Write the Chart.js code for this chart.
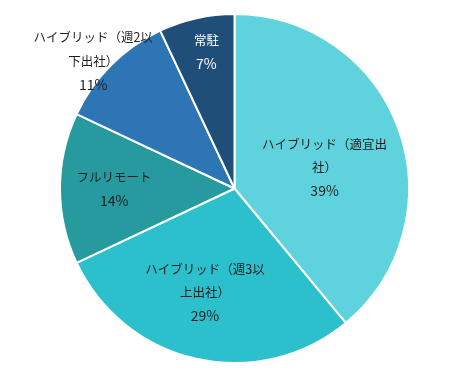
<!DOCTYPE html>
<html><head><meta charset="utf-8">
<script src="https://cdn.jsdelivr.net/npm/chart.js@4"></script>
<style>html,body{margin:0;padding:0;background:#fff;}#wrap{width:460px;height:381px;}</style>
</head><body><div id="wrap"><canvas id="c" width="460" height="381"></canvas></div>
<script>
const categories = [["ハイブリッド（適宜出","社）"],["ハイブリッド（週3以","上出社）"],["フルリモート"],["ハイブリッド（週2以","下出社）"],["常駐"]];
const values = [39, 29, 14, 11, 7];
const colors = ["#5fd3dd", "#2cbfcc", "#269a9f", "#2e75b6", "#1f4e79"];
const labelColors = ["#1f1f1f", "#1f1f1f", "#1f1f1f", "#1f1f1f", "#ffffff"];
// label anchor: [radius fraction, angle offset in degrees from slice middle]
const labelAnchors = [[0.53, 6.7], [0.62, 3.2], [0.69, 0], [1.09, -3], [0.80, 1]];

const labelPlugin = {
  id: 'pieLabels',
  afterDatasetsDraw(chart) {
    const ctx = chart.ctx;
    const meta = chart.getDatasetMeta(0);
    ctx.save();
    ctx.textAlign = 'center';
    ctx.textBaseline = 'middle';
    meta.data.forEach((arc, i) => {
      const p = arc.getProps(['x','y','startAngle','endAngle','outerRadius'], true);
      const mid = (p.startAngle + p.endAngle) / 2 + labelAnchors[i][1] * Math.PI / 180;
      const r = p.outerRadius * labelAnchors[i][0];
      const cx = p.x + Math.cos(mid) * r;
      const cy = p.y + Math.sin(mid) * r;
      const lines = categories[i].concat([values[i] + '%']);
      const lh = 23.5;
      const y0 = cy - (lines.length - 1) * lh / 2;
      ctx.fillStyle = labelColors[i];
      lines.forEach((t, k) => {
        const isPct = k === lines.length - 1;
        ctx.font = (isPct ? '14px' : '12.5px') + ' "Noto Sans CJK JP", sans-serif';
        ctx.fillText(t, cx, y0 + k * lh);
      });
    });
    ctx.restore();
  }
};

new Chart(document.getElementById('c'), {
  type: 'pie',
  data: {
    labels: categories.map(c => c.join('')),
    datasets: [{ data: values, backgroundColor: colors, borderColor: '#ffffff', borderWidth: 2 }]
  },
  options: {
    responsive: false,
    animation: false,
    layout: { padding: { left: 59, right: 50, top: 13, bottom: 17 } },
    plugins: { legend: { display: false }, tooltip: { enabled: false } }
  },
  plugins: [labelPlugin]
});
</script></body></html>
